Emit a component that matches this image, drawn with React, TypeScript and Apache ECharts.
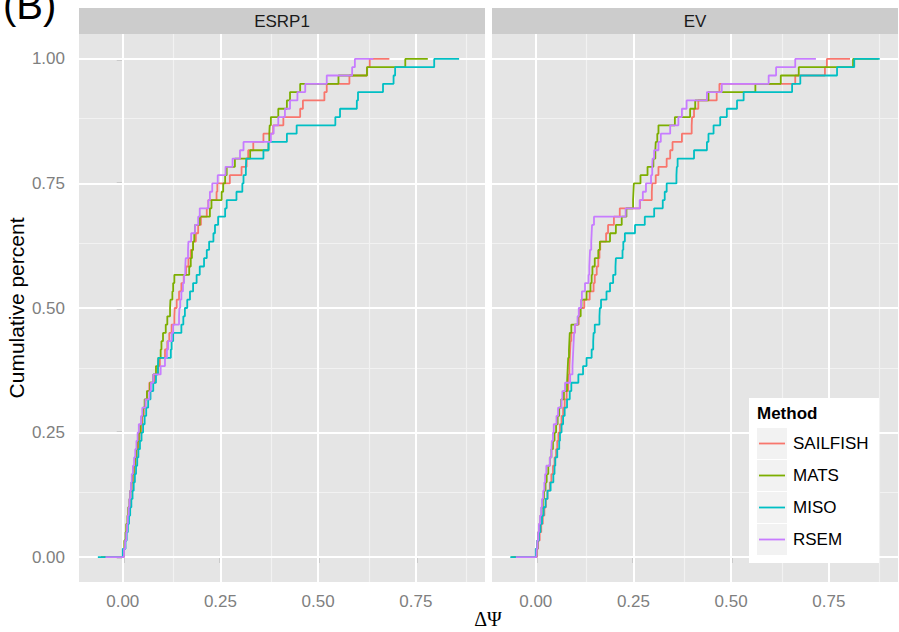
import React, { useEffect, useRef } from "react";
import * as echarts from "echarts";

// ---------- data ----------
const methods = ["SAILFISH", "MATS", "MISO", "RSEM"];
const colors = ["#F8766D", "#7CAE00", "#00BFC4", "#C77CFF"];
const panels = ["ESRP1", "EV"];
const xTicks = [0, 0.25, 0.5, 0.75];
const xMinor = [0.125, 0.375, 0.625, 0.875];
const yTicks = [0, 0.25, 0.5, 0.75, 1];
const yMinor = [0.125, 0.375, 0.625, 0.875];

// ΔΨ values per method (ESRP1 panel)
const esrp1Sailfish = [
  0.003, 0.005, 0.008, 0.010, 0.013, 0.015, 0.018, 0.020, 0.023, 0.026,
  0.030, 0.033, 0.036, 0.040, 0.043, 0.047, 0.050, 0.054, 0.058, 0.062,
  0.068, 0.082, 0.091, 0.095, 0.108, 0.114, 0.119, 0.125, 0.132, 0.133,
  0.138, 0.144, 0.150, 0.156, 0.162, 0.168, 0.174, 0.180, 0.187, 0.193,
  0.200, 0.215, 0.219, 0.240, 0.242, 0.274, 0.304, 0.317, 0.321, 0.334,
  0.360, 0.385, 0.411, 0.454, 0.461, 0.516, 0.522, 0.580, 0.625, 0.632,
];
const esrp1Mats = [
  0.002, 0.004, 0.007, 0.009, 0.012, 0.014, 0.017, 0.019, 0.022, 0.025,
  0.028, 0.031, 0.034, 0.038, 0.041, 0.045, 0.048, 0.052, 0.056, 0.062,
  0.070, 0.078, 0.085, 0.091, 0.097, 0.099, 0.103, 0.110, 0.114, 0.121,
  0.122, 0.127, 0.129, 0.132, 0.170, 0.174, 0.177, 0.180, 0.183, 0.185,
  0.197, 0.223, 0.227, 0.253, 0.257, 0.262, 0.266, 0.287, 0.326, 0.373,
  0.375, 0.376, 0.379, 0.398, 0.420, 0.428, 0.454, 0.552, 0.625, 0.723,
];
const esrp1Miso = [
  0.000, 0.007, 0.010, 0.013, 0.016, 0.019, 0.022, 0.025, 0.028, 0.031,
  0.034, 0.037, 0.040, 0.044, 0.048, 0.052, 0.056, 0.060, 0.065, 0.071,
  0.078, 0.085, 0.090, 0.091, 0.123, 0.125, 0.129, 0.150, 0.155, 0.159,
  0.165, 0.172, 0.180, 0.189, 0.197, 0.208, 0.215, 0.221, 0.232, 0.236,
  0.244, 0.262, 0.266, 0.291, 0.306, 0.309, 0.315, 0.316, 0.360, 0.373,
  0.420, 0.445, 0.544, 0.556, 0.599, 0.602, 0.666, 0.693, 0.697, 0.797,
];
const esrp1Rsem = [
  0.003, 0.006, 0.009, 0.011, 0.013, 0.015, 0.017, 0.019, 0.021, 0.023,
  0.026, 0.029, 0.032, 0.035, 0.038, 0.041, 0.047, 0.050, 0.058, 0.068,
  0.072, 0.078, 0.097, 0.108, 0.113, 0.116, 0.125, 0.129, 0.144, 0.145,
  0.147, 0.150, 0.154, 0.157, 0.160, 0.161, 0.167, 0.168, 0.175, 0.185,
  0.193, 0.197, 0.219, 0.223, 0.229, 0.243, 0.263, 0.281, 0.300, 0.309,
  0.379, 0.386, 0.398, 0.415, 0.428, 0.447, 0.467, 0.522, 0.587, 0.594,
];

// ΔΨ values per method (EV panel)
const evSailfish = [
  0.003, 0.006, 0.010, 0.014, 0.018, 0.022, 0.026, 0.030, 0.036, 0.040,
  0.044, 0.048, 0.052, 0.055, 0.058, 0.062, 0.066, 0.070, 0.074, 0.079,
  0.083, 0.084, 0.086, 0.087, 0.088, 0.089, 0.091, 0.100, 0.110, 0.113,
  0.124, 0.138, 0.148, 0.151, 0.156, 0.160, 0.163, 0.165, 0.180, 0.185,
  0.200, 0.215, 0.267, 0.297, 0.298, 0.307, 0.314, 0.335, 0.344, 0.350,
  0.374, 0.399, 0.400, 0.405, 0.416, 0.463, 0.470, 0.664, 0.740, 0.745,
];
const evMats = [
  0.002, 0.004, 0.006, 0.009, 0.012, 0.015, 0.018, 0.021, 0.025, 0.028,
  0.032, 0.036, 0.040, 0.044, 0.048, 0.052, 0.056, 0.060, 0.065, 0.072,
  0.080, 0.081, 0.082, 0.083, 0.085, 0.086, 0.087, 0.091, 0.108, 0.115,
  0.117, 0.130, 0.140, 0.143, 0.145, 0.151, 0.160, 0.164, 0.190, 0.205,
  0.220, 0.232, 0.249, 0.250, 0.251, 0.268, 0.286, 0.301, 0.306, 0.307,
  0.311, 0.314, 0.356, 0.395, 0.408, 0.442, 0.562, 0.627, 0.673, 0.812,
];
const evMiso = [
  0.000, 0.004, 0.008, 0.012, 0.016, 0.020, 0.025, 0.030, 0.038, 0.045,
  0.048, 0.050, 0.055, 0.060, 0.062, 0.066, 0.070, 0.074, 0.080, 0.087,
  0.091, 0.109, 0.121, 0.130, 0.143, 0.147, 0.148, 0.151, 0.163, 0.164,
  0.167, 0.181, 0.190, 0.198, 0.204, 0.205, 0.222, 0.224, 0.228, 0.254,
  0.279, 0.303, 0.325, 0.330, 0.335, 0.360, 0.361, 0.363, 0.405, 0.438,
  0.442, 0.455, 0.472, 0.489, 0.515, 0.532, 0.656, 0.677, 0.771, 0.815,
];
const evRsem = [
  0.002, 0.004, 0.006, 0.008, 0.011, 0.014, 0.016, 0.019, 0.022, 0.024,
  0.027, 0.036, 0.040, 0.041, 0.044, 0.046, 0.053, 0.057, 0.066, 0.068,
  0.075, 0.088, 0.094, 0.095, 0.096, 0.097, 0.098, 0.100, 0.107, 0.110,
  0.116, 0.118, 0.126, 0.135, 0.137, 0.138, 0.139, 0.142, 0.143, 0.144,
  0.149, 0.230, 0.266, 0.274, 0.282, 0.295, 0.298, 0.299, 0.303, 0.314,
  0.320, 0.344, 0.365, 0.374, 0.386, 0.438, 0.476, 0.596, 0.615, 0.664,
];

const panelData = [
  [esrp1Sailfish, esrp1Mats, esrp1Miso, esrp1Rsem],
  [evSailfish, evMats, evMiso, evRsem],
];

// empirical CDF (as ggplot stat_ecdf: padded 8% of range on both sides)
function ecdf(values: number[]): number[][] {
  const v = [...values].sort((a, b) => a - b);
  const n = v.length;
  const lo = v[0];
  const hi = v[n - 1];
  const dr = 0.08 * (hi - lo);
  const pts: number[][] = [[lo - dr, 0]];
  v.forEach((x, i) => pts.push([x, (i + 1) / n]));
  pts.push([hi + dr, 1]);
  return pts;
}

const FONT = "'Liberation Sans', Arial, Helvetica, sans-serif";

export default function App() {
  const ref = useRef<HTMLDivElement>(null);

  useEffect(() => {
    if (!ref.current) return;
    const chart = echarts.init(ref.current, undefined, { renderer: "svg" });

    const grids = [
      { left: 79, top: 34, width: 406, height: 548 },
      { left: 492, top: 34, width: 406, height: 548 },
    ];

    const xAxes = grids.map((_, i) => ({
      type: "value",
      gridIndex: i,
      min: -0.112,
      max: 0.927,
      axisLine: { show: false },
      splitLine: { show: false },
      axisTick: {
        show: true,
        customValues: xTicks,
        length: 6,
        lineStyle: { color: "#333333", width: 1.3 },
      },
      axisLabel: {
        show: true,
        customValues: xTicks,
        formatter: (v: number) => v.toFixed(2),
        color: "#7F7F7F",
        fontSize: 17,
        fontFamily: FONT,
        margin: 11,
      },
    }));

    const yAxes = grids.map((_, i) => ({
      type: "value",
      gridIndex: i,
      min: -0.05,
      max: 1.05,
      axisLine: { show: false },
      splitLine: { show: false },
      axisTick: {
        show: i === 0,
        customValues: yTicks,
        length: 6,
        lineStyle: { color: "#333333", width: 1.3 },
      },
      axisLabel: {
        show: i === 0,
        customValues: yTicks,
        formatter: (v: number) => v.toFixed(2),
        color: "#7F7F7F",
        fontSize: 17,
        fontFamily: FONT,
        margin: 14,
      },
      name: i === 0 ? "Cumulative percent" : "",
      nameLocation: "middle",
      nameRotate: 90,
      nameGap: 52,
      nameTextStyle: { color: "#000000", fontSize: 21, fontFamily: FONT },
    }));

    const gridSeries = grids.map((_, i) => ({
      type: "line",
      xAxisIndex: i,
      yAxisIndex: i,
      data: [],
      z: 1,
      silent: true,
      markLine: {
        z: 1,
        silent: true,
        symbol: ["none", "none"],
        label: { show: false },
        animation: false,
        data: [
          ...xMinor.map((v) => ({ xAxis: v, lineStyle: { color: "#F2F2F2", width: 1.1, type: "solid" } })),
          ...yMinor.map((v) => ({ yAxis: v, lineStyle: { color: "#F2F2F2", width: 1.1, type: "solid" } })),
          ...xTicks.map((v) => ({ xAxis: v, lineStyle: { color: "#FFFFFF", width: 2, type: "solid" } })),
          ...yTicks.map((v) => ({ yAxis: v, lineStyle: { color: "#FFFFFF", width: 2, type: "solid" } })),
        ],
      },
    }));

    const dataSeries: any[] = [];
    panelData.forEach((sets, p) => {
      sets.forEach((vals, m) => {
        dataSeries.push({
          type: "line",
          name: methods[m],
          xAxisIndex: p,
          yAxisIndex: p,
          step: "end",
          showSymbol: false,
          symbol: "none",
          z: 6,
          lineStyle: { color: colors[m], width: 1.8 },
          itemStyle: { color: colors[m] },
          data: ecdf(vals),
        });
      });
    });

    const graphics: any[] = [];
    // facet strips
    grids.forEach((g, i) => {
      graphics.push({
        type: "rect",
        shape: { x: g.left, y: 8, width: g.width, height: g.top - 8 },
        style: { fill: "#CCCCCC" },
        silent: true,
      });
      graphics.push({
        type: "text",
        x: g.left + g.width / 2,
        y: 21,
        style: {
          text: panels[i],
          fill: "#1A1A1A",
          fontSize: 17,
          fontFamily: FONT,
          align: "center",
          verticalAlign: "middle",
        },
      });
    });
    // panel tag
    graphics.push({
      type: "text",
      x: 3,
      y: 5,
      style: {
        text: "(B)",
        fill: "#000000",
        fontSize: 40,
        fontFamily: FONT,
        align: "left",
        verticalAlign: "middle",
      },
    });
    // x-axis title
    graphics.push({
      type: "text",
      x: 488,
      y: 619,
      style: {
        text: "ΔΨ",
        fill: "#000000",
        fontSize: 20,
        fontFamily: "'Liberation Serif', 'DejaVu Serif', serif",
        align: "center",
        verticalAlign: "middle",
      },
    });
    // legend
    const lg = { x: 749, y: 398, w: 130, h: 165 };
    graphics.push({
      type: "rect",
      shape: { x: lg.x, y: lg.y, width: lg.w, height: lg.h },
      style: { fill: "#FFFFFF" },
      z: 10,
    });
    graphics.push({
      type: "text",
      x: lg.x + 8,
      y: lg.y + 15,
      z: 11,
      style: {
        text: "Method",
        fill: "#000000",
        fontSize: 17,
        fontWeight: "bold",
        fontFamily: FONT,
        align: "left",
        verticalAlign: "middle",
      },
    });
    methods.forEach((m, i) => {
      const ky = lg.y + 30 + i * 32;
      graphics.push({
        type: "rect",
        z: 11,
        shape: { x: lg.x + 8, y: ky, width: 30, height: 31 },
        style: { fill: "#F2F2F2" },
      });
      graphics.push({
        type: "line",
        z: 12,
        shape: { x1: lg.x + 10, y1: ky + 15.5, x2: lg.x + 36, y2: ky + 15.5 },
        style: { stroke: colors[i], lineWidth: 1.8 },
      });
      graphics.push({
        type: "text",
        z: 12,
        x: lg.x + 44,
        y: ky + 15.5,
        style: {
          text: m,
          fill: "#000000",
          fontSize: 17,
          fontFamily: FONT,
          align: "left",
          verticalAlign: "middle",
        },
      });
    });

    chart.setOption({
      animation: false,
      backgroundColor: "#FFFFFF",
      grid: grids.map((g) => ({
        ...g,
        show: true,
        backgroundColor: "#E5E5E5",
        borderWidth: 0,
        containLabel: false,
      })),
      xAxis: xAxes,
      yAxis: yAxes,
      series: [...gridSeries, ...dataSeries],
      graphic: graphics,
    });

    return () => chart.dispose();
  }, []);

  return (
    <div
      ref={ref}
      style={{ position: "fixed", left: 0, top: 0, width: 899, height: 632, background: "#fff" }}
    />
  );
}
